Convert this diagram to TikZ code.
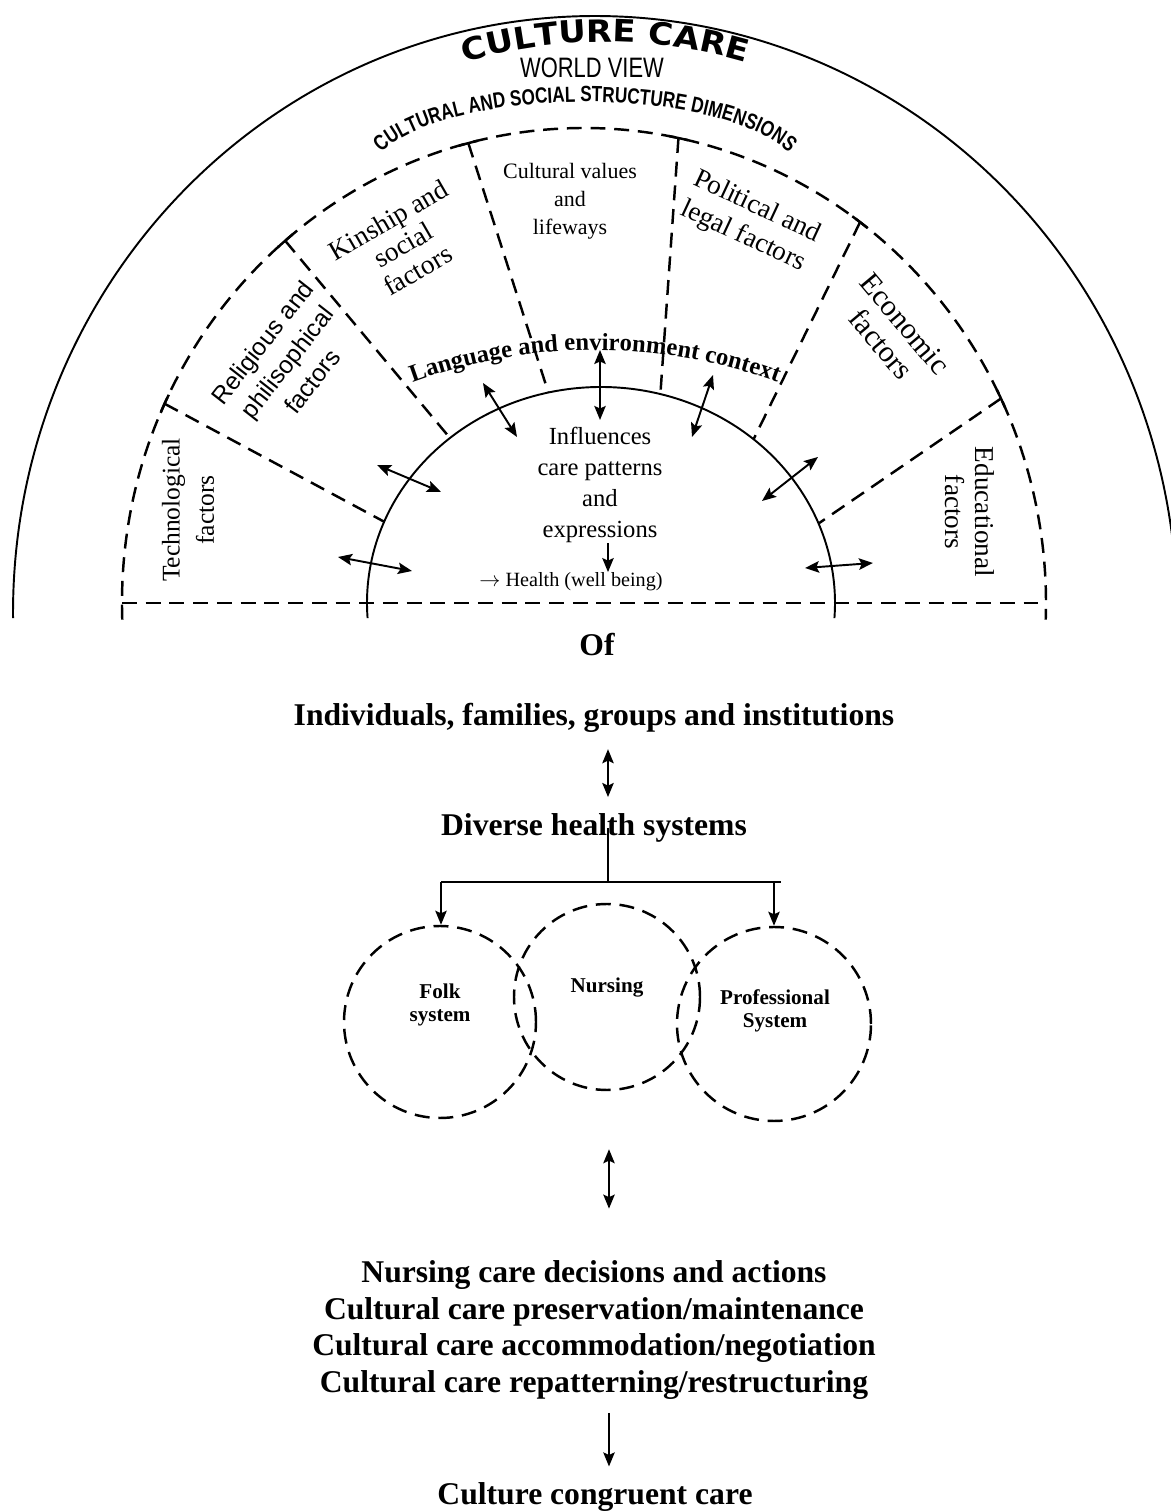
\documentclass[tikz,border=0pt]{standalone}
\usepackage{fontspec}
\setmainfont{Liberation Serif}
\newfontfamily\sansfont{Liberation Sans}
\newfontfamily\narrowfont[FakeStretch=0.78]{Liberation Sans}
\newfontfamily\titlefont[FakeStretch=1.1]{DejaVu Sans}
\usetikzlibrary{arrows.meta, calc, decorations.text}

\begin{document}
\begin{tikzpicture}[thick, >={Stealth[length=8pt,width=6.5pt,inset=1.5pt]},
    solidline/.style={line width=1.1pt},
    dashline/.style={line width=1.4pt, dash pattern=on 8.5pt off 5pt},
    factor/.style={align=center, inner sep=0pt},
    sysring/.style={draw, circle, dashline},
    syslabel/.style={font=\bfseries\fontsize{12}{13}\selectfont, align=center},
    bigtext/.style={font=\bfseries\fontsize{18}{21}\selectfont, align=center}]

    \useasboundingbox (0,0) rectangle (23.4,30.24);

    % centres of the world view arc, the dimension ring and the care arc
    \coordinate (wc) at (11.9,17.98);
    \coordinate (oc) at (11.68,18.18);
    \coordinate (ic) at (12.02,18.18);

    \draw[solidline] (wc) ++(180.5:11.64cm and 11.94cm) arc[start angle=180.5, end angle=-1, x radius=11.64cm, y radius=11.94cm];
    \draw[dashline] (oc) ++(182:9.24cm and 9.5cm) arc[start angle=182, end angle=-2, x radius=9.24cm, y radius=9.5cm];
    \draw[solidline] (ic) ++(184:4.68cm and 4.32cm) arc[start angle=184, end angle=-4, x radius=4.68cm, y radius=4.32cm];
    \draw[dashline] ($(oc)+(180:9.24cm and 9.5cm)$) -- ($(oc)+(0:9.24cm and 9.5cm)$);

    % sector borders
    \draw[dashline] ($(oc)+(155.2:9.24cm and 9.5cm)$) -- ($(ic)+(157.9:4.68cm and 4.32cm)$);
    \draw[dashline] ($(oc)+(130.3:9.24cm and 9.5cm)$) -- ($(ic)+(130.2:4.68cm and 4.32cm)$);
    \draw[dashline] ($(oc)+(104.5:9.24cm and 9.5cm)$) -- ($(ic)+(103:4.68cm and 4.32cm)$);
    \draw[dashline] ($(oc)+(78.2:9.24cm and 9.5cm)$) -- ($(ic)+(75.3:4.68cm and 4.32cm)$);
    \draw[dashline] ($(oc)+(53.3:9.24cm and 9.5cm)$) -- ($(ic)+(49.3:4.68cm and 4.32cm)$);
    \draw[dashline] ($(oc)+(25.5:9.24cm and 9.5cm)$) -- ($(ic)+(21.6:4.68cm and 4.32cm)$);
    \foreach \a in {155.2,130.3,104.5,78.2,53.3,25.5}
        \draw[line width=1.4pt] (oc) ++(\a+1.2:9.24cm and 9.5cm) arc[start angle=\a+1.2, end angle=\a-1.2, x radius=9.24cm, y radius=9.5cm];

    % titles along the arcs
    \path[decorate, decoration={text along path, text align=center,
        text={|\titlefont\bfseries\fontsize{17.5}{17.5}\selectfont|CULTURE CARE}}]
        (12.1,19.4) ++(108:10cm) arc[start angle=108, end angle=72, radius=10cm];
    \node (worldview) at (11.84,28.88) {\narrowfont\fontsize{16}{16}\selectfont WORLD VIEW};
    \path[decorate, decoration={text along path, text align=center,
        text={|\narrowfont\bfseries\fontsize{12.5}{12.5}\selectfont|CULTURAL AND SOCIAL STRUCTURE DIMENSIONS}}]
        (11.7,26.7) ++(165:4.3cm and 1.5cm) arc[start angle=165, end angle=15, x radius=4.3cm, y radius=1.5cm];
    \path[decorate, decoration={text along path, text align=center,
        text={|\bfseries\fontsize{14}{14}\selectfont|Language and environment context}}]
        (11.9,12.64) ++(110.4:10.6cm) arc[start angle=110.4, end angle=69.6, radius=10.6cm];

    % the factors
    \node[factor, rotate=90, font=\fontsize{14.5}{19.5}\selectfont] (tech) at (3.76,20.04) {Technological\\factors};
    \node[factor, rotate=52, font=\sansfont\fontsize{14}{18}\selectfont] (relig) at (5.74,23.0) {Religious and\\philisophical\\factors};
    \node[factor, rotate=30, font=\fontsize{15.5}{16.5}\selectfont] (kin) at (8.06,25.34) {Kinship and\\social\\factors};
    \node[factor, font=\fontsize{12.5}{16}\selectfont] (values) at (11.4,26.22) {Cultural values\\and\\lifeways};
    \node[factor, rotate=-25, font=\fontsize{15.5}{18.5}\selectfont] (polit) at (15.0,25.8) {Political and\\legal factors};
    \node[factor, rotate=-50, font=\fontsize{17}{18}\selectfont] (econ) at (17.86,23.56) {Economic\\factors};
    \node[factor, rotate=-90, font=\fontsize{15.5}{17}\selectfont] (educ) at (19.4,20.0) {Educational\\factors};

    \node[factor, font=\fontsize{14}{17.5}\selectfont] (influence) at (12.0,20.54) {Influences\\care patterns\\and\\expressions};
    \node[font=\fontsize{11.5}{12}\selectfont, inner sep=0pt] (health) at (11.42,18.6) {$\rightarrow$\ Health (well being)};
    \draw[->, solidline] ([xshift=1.6mm]influence.south) -- ([xshift=1.6mm]influence.south |- health.north);

    % influences across the care arc
    \draw[<->, solidline] (12.0,23.24) -- (12.0,21.84);
    \draw[<->, solidline] (9.66,22.58) -- (10.34,21.5);
    \draw[<->, solidline] (14.26,22.74) -- (13.84,21.5);
    \draw[<->, solidline] (7.54,20.94) -- (8.82,20.4);
    \draw[<->, solidline] (16.36,21.1) -- (15.24,20.22);
    \draw[<->, solidline] (6.76,19.1) -- (8.24,18.82);
    \draw[<->, solidline] (16.1,18.88) -- (17.46,18.98);

    % lower part
    \node[bigtext] (of) at (11.94,17.34) {Of};
    \node[bigtext] (groups) at (11.88,15.88) {Individuals, families, groups and institutions};
    \node[bigtext] (diverse) at (11.88,13.68) {Diverse health systems};
    \draw[<->, solidline, shorten <=2mm, shorten >=2mm] ([xshift=2.8mm]groups.south) -- ([xshift=2.8mm]diverse.north);

    \node[sysring, minimum size=3.84cm] (folk) at (8.8,9.8) {};
    \node[sysring, minimum size=3.72cm] (nurse) at (12.14,10.3) {};
    \node[sysring, minimum size=3.88cm] (prof) at (15.48,9.76) {};
    \node[syslabel] (folktext) at (8.8,10.14) {Folk\\system};
    \node[syslabel] (nursetext) at (12.14,10.48) {Nursing};
    \node[syslabel] (proftext) at (15.5,10.02) {Professional\\System};

    \coordinate (split) at (12.16,12.6);
    \coordinate (busL) at (8.82,12.6);
    \coordinate (busR) at (15.62,12.6);
    \draw[solidline] (diverse.center -| split) -- (split);
    \draw[solidline] (busL) -- (busR);
    \draw[->, solidline] (busL) -- (folk.north -| busL);
    \draw[->, solidline] (prof.north |- busR) -- (prof.north);

    \node[bigtext] (actions) at (11.88,3.64) {Nursing care decisions and actions\\Cultural care preservation/maintenance\\Cultural care accommodation/negotiation\\Cultural care repatterning/restructuring};
    \node[bigtext] (congruent) at (11.9,0.3) {Culture congruent care};

    \draw[<->, solidline, shorten <=11.6mm, shorten >=9mm] ([xshift=0.4mm]nurse.south) -- ([xshift=0.4mm]nurse.south |- actions.north);
    \draw[->, solidline, shorten <=1.3mm, shorten >=1.9mm] ([xshift=3mm]actions.south) -- ([xshift=3mm]actions.south |- congruent.north);
\end{tikzpicture}
\end{document}
